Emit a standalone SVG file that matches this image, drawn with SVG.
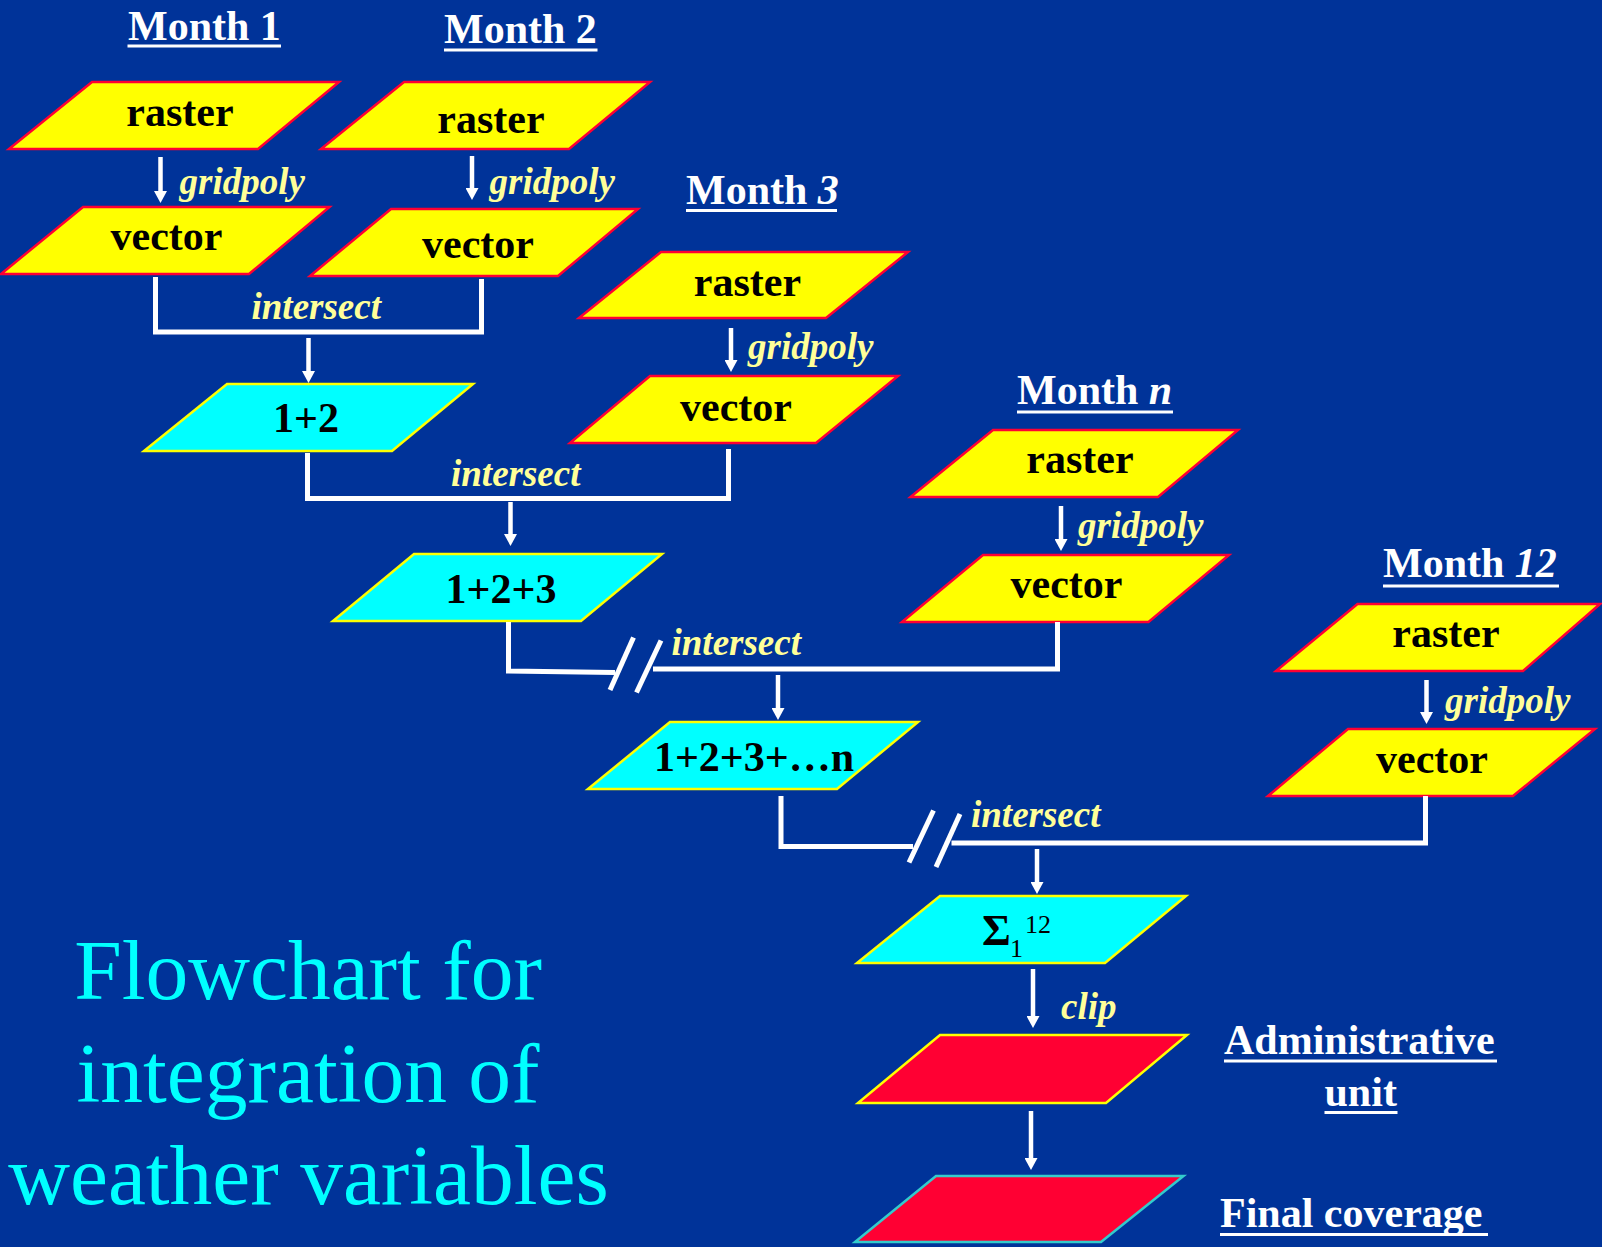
<svg xmlns="http://www.w3.org/2000/svg" width="1602" height="1247" viewBox="0 0 1602 1247">
<style>
.bg{fill:#003399}
.ras{fill:#FFFF00;stroke:#FF0033;stroke-width:2.5}
.cy{fill:#00FFFF;stroke:#FFFF00;stroke-width:2.5}
.rd{fill:#FF0033;stroke:#FFFF00;stroke-width:2.5}
.rdf{fill:#FF0033;stroke:#33CCCC;stroke-width:2.5}
.nt{font-family:"Liberation Serif","Times New Roman",serif;font-weight:bold;font-size:42px;fill:#000;text-anchor:middle}
.mt{font-family:"Liberation Serif","Times New Roman",serif;font-weight:bold;font-size:42px;fill:#FFFFFF}
.lb{font-family:"Liberation Serif","Times New Roman",serif;font-weight:bold;font-style:italic;font-size:37px;fill:#FFFF99}
.ul{stroke:#FFFFFF;stroke-width:3}
.ln{fill:none;stroke:#FFFFFF;stroke-width:5}
.ar{fill:none;stroke:#FFFFFF;stroke-width:4.5;marker-end:url(#ah)}
.ttl{font-family:"Liberation Serif","Times New Roman",serif;font-size:85.5px;fill:#00FFFF;text-anchor:middle}
</style>
<defs>
<marker id="ah" viewBox="0 0 12 13" refX="0" refY="6.5" markerWidth="12" markerHeight="13" markerUnits="userSpaceOnUse" orient="auto">
<path d="M0,0 L12,6.5 L0,13 z" fill="#FFFFFF"/>
</marker>
</defs>
<rect class="bg" x="0" y="0" width="1602" height="1247"/>

<g id="month1-label"><text class="mt" x="128" y="40">Month 1</text><line class="ul" x1="127.5" y1="46" x2="281" y2="46"/></g>
<g id="month2-label"><text class="mt" x="444" y="43">Month 2</text><line class="ul" x1="444" y1="50" x2="597.5" y2="50"/></g>
<g id="month3-label"><text class="mt" x="686" y="204">Month <tspan font-style="italic">3</tspan></text><line class="ul" x1="686" y1="210.5" x2="837" y2="210.5"/></g>
<g id="monthn-label"><text class="mt" x="1017" y="404">Month <tspan font-style="italic">n</tspan></text><line class="ul" x1="1017" y1="412" x2="1173" y2="412"/></g>
<g id="month12-label"><text class="mt" x="1383" y="577">Month <tspan font-style="italic">12</tspan></text><line class="ul" x1="1383" y1="586" x2="1559" y2="586"/></g>

<g id="raster1"><polygon class="ras" points="92,82 339,82 258,149 9,149"/><text class="nt" x="180" y="126">raster</text></g>
<g id="vector1"><polygon class="ras" points="83,207 329.5,207 249,274 1,274"/><text class="nt" x="166.5" y="250">vector</text></g>
<g id="raster2"><polygon class="ras" points="404,82 650,82 569,149 321,149"/><text class="nt" x="491" y="133">raster</text></g>
<g id="vector2"><polygon class="ras" points="391,209 638,209 558,276 310,276"/><text class="nt" x="478" y="258">vector</text></g>
<g id="raster3"><polygon class="ras" points="661,252 908,252 826,318 579,318"/><text class="nt" x="747.5" y="296">raster</text></g>
<g id="vector3"><polygon class="ras" points="650,376 898,376 816,443 570,443"/><text class="nt" x="736" y="420.5">vector</text></g>
<g id="rastern"><polygon class="ras" points="993,430 1238,430 1158,497 910.5,497"/><text class="nt" x="1080" y="473">raster</text></g>
<g id="vectorn"><polygon class="ras" points="983,555 1229,555 1148.5,622 902,622"/><text class="nt" x="1066.5" y="598">vector</text></g>
<g id="raster12"><polygon class="ras" points="1357.5,604 1600,604 1523,671 1276,671"/><text class="nt" x="1446" y="647">raster</text></g>
<g id="vector12"><polygon class="ras" points="1348,729 1595,729 1513,796 1268,796"/><text class="nt" x="1432" y="773">vector</text></g>

<g id="sum12"><polygon class="cy" points="227,384 473,384 392,451 144,451"/><text class="nt" x="306" y="431.5">1+2</text></g>
<g id="sum123"><polygon class="cy" points="414,554 662,554 581,621 333,621"/><text class="nt" x="501" y="603">1+2+3</text></g>
<g id="sum123n"><polygon class="cy" points="670,722 918,722 837,789 588,789"/><text class="nt" x="754" y="771">1+2+3+…n</text></g>
<g id="sigma"><polygon class="cy" points="940,896 1186,896 1105,963 857,963"/><text font-family="'Liberation Serif','Times New Roman',serif" fill="#000"><tspan x="982" y="945" font-size="44" font-weight="bold">Σ</tspan><tspan x="1010" y="957" font-size="26">1</tspan><tspan x="1025" y="933" font-size="26">12</tspan></text></g>
<g id="admin-unit"><polygon class="rd" points="940,1035 1187,1035 1106,1103 858,1103"/></g>
<g id="final-coverage"><polygon class="rdf" points="936,1176 1183.5,1176 1101,1242 855,1242"/></g>

<g id="admin-label"><text class="mt" x="1224" y="1054">Administrative</text><line class="ul" x1="1224" y1="1061" x2="1497" y2="1061"/><text class="mt" x="1324.5" y="1105.5">unit</text><line class="ul" x1="1324.5" y1="1112.5" x2="1397.5" y2="1112.5"/></g>
<g id="final-label"><text class="mt" x="1220" y="1226.5">Final coverage</text><line class="ul" x1="1220" y1="1234.5" x2="1488" y2="1234.5"/></g>

<g id="title"><text class="ttl" x="308" y="999">Flowchart for</text><text class="ttl" x="308" y="1101.5">integration of</text><text class="ttl" x="308.5" y="1204">weather variables</text></g>

<g id="connectors">
<line class="ar" x1="160.5" y1="157" x2="160.5" y2="191"/>
<line class="ar" x1="472" y1="156" x2="472" y2="188"/>
<line class="ar" x1="731" y1="328" x2="731" y2="360"/>
<line class="ar" x1="1061" y1="506" x2="1061" y2="539"/>
<line class="ar" x1="1426.5" y1="680" x2="1426.5" y2="712"/>
<line class="ar" x1="308.5" y1="338" x2="308.5" y2="371"/>
<line class="ar" x1="510.5" y1="502" x2="510.5" y2="534"/>
<line class="ar" x1="778" y1="675" x2="778" y2="708"/>
<line class="ar" x1="1037" y1="849" x2="1037" y2="882"/>
<line class="ar" x1="1033" y1="969" x2="1033" y2="1016"/>
<line class="ar" x1="1031" y1="1111" x2="1031" y2="1158"/>
<path class="ln" d="M155.5,277 V332 H481.5 V279"/>
<path class="ln" d="M307.5,453 V498.5 H728.5 V449"/>
<path class="ln" d="M508.5,622 V671 L615,672.5"/>
<path class="ln" d="M653,669 H1057.5 V622"/>
<line class="ln" x1="633.5" y1="637.5" x2="610" y2="690"/>
<line class="ln" x1="661" y1="640.5" x2="636.5" y2="692.5"/>
<path class="ln" d="M781,796 V846.5 H913"/>
<path class="ln" d="M951.5,843 H1425.5 V796"/>
<line class="ln" x1="933.5" y1="810.5" x2="909" y2="862.5"/>
<line class="ln" x1="960" y1="814" x2="936" y2="867"/>
<text class="lb" x="179.5" y="194">gridpoly</text>
<text class="lb" x="489.5" y="194">gridpoly</text>
<text class="lb" x="748" y="358.5">gridpoly</text>
<text class="lb" x="1078" y="538">gridpoly</text>
<text class="lb" x="1445" y="713">gridpoly</text>
<text class="lb" x="251.5" y="318.5">intersect</text>
<text class="lb" x="451" y="486">intersect</text>
<text class="lb" x="671.5" y="655">intersect</text>
<text class="lb" x="971" y="827">intersect</text>
<text class="lb" x="1061" y="1019">clip</text>
</g>
</svg>
